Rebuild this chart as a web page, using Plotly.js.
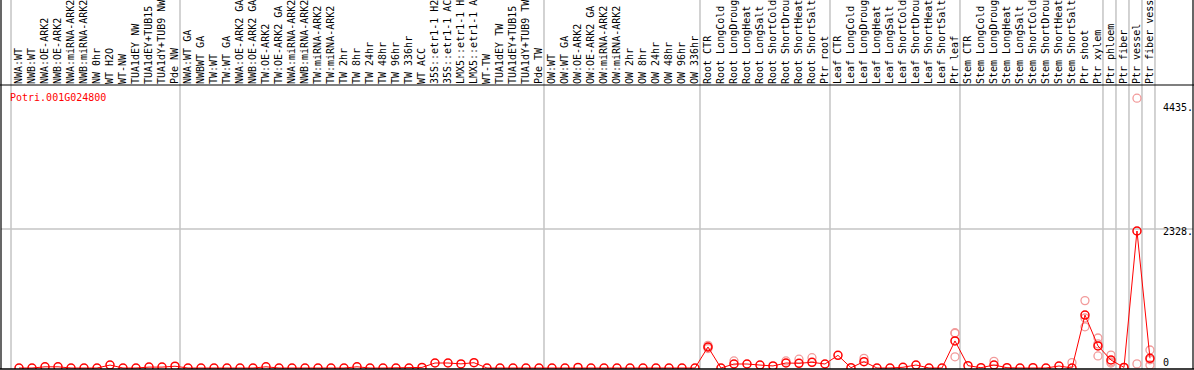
<!DOCTYPE html>
<html><head><meta charset="utf-8">
<script src="https://cdn.plot.ly/plotly-3.0.1.min.js"></script>
<style>html,body{margin:0;padding:0;background:#fff}#chart{width:1194px;height:370px}</style>
</head><body><div id="chart"></div>
<script>
const geneName = "Potri.001G024800";
const categories = [
 "NWA:WT","NWB:WT","NWA:OE-ARK2","NWB:OE-ARK2","NWA:miRNA-ARK2","NWB:miRNA-ARK2","NW 0hr","WT H2O","WT-NW","TUA1dEY NW","TUA1dEY+TUB15","TUA1dY+TUB9 NW","Pde NW",
 "NWA:WT GA","NWBWT GA","TW:WT","TW:WT GA","NWA:OE-ARK2 GA","NWB:OE-ARK2 GA","TW:OE-ARK2","TW:OE-ARK2 GA","NWA:miRNA-ARK2","NWB:miRNA-ARK2","TW:miRNA-ARK2","TW:miRNA-ARK2","TW 2hr","TW 8hr","TW 24hr","TW 48hr","TW 96hr","TW 336hr","WT ACC","35S::etr1-1 H2","35S::etr1-1 AC","LMX5::etr1-1 H","LMX5::etr1-1 A","WT-TW","TUA1dEY TW","TUA1dEY+TUB15","TUA1dY+TUB9 TW","Pde TW",
 "OW:WT","OW:WT GA","OW:OE-ARK2","OW:OE-ARK2 GA","OW:miRNA-ARK2","OW:miRNA-ARK2","OW 2hr","OW 8hr","OW 24hr","OW 48hr","OW 96hr","OW 336hr",
 "Root CTR","Root LongCold","Root LongDroug","Root LongHeat","Root LongSalt","Root ShortCold","Root ShortDrou","Root ShortHeat","Root ShortSalt","Ptr root",
 "Leaf CTR","Leaf LongCold","Leaf LongDroug","Leaf LongHeat","Leaf LongSalt","Leaf ShortCold","Leaf ShortDrou","Leaf ShortHeat","Leaf ShortSalt","Ptr leaf",
 "Stem CTR","Stem LongCold","Stem LongDroug","Stem LongHeat","Stem LongSalt","Stem ShortCold","Stem ShortDrou","Stem ShortHeat","Stem ShortSalt","Ptr shoot",
 "Ptr xylem","Ptr phloem","Ptr fiber","Ptr vessel","Ptr fiber vess"
];
const meanValues = [
 0,0,20,20,0,0,0,50,0,0,15,15,30,
 0,0,0,0,0,0,20,0,0,0,0,0,0,20,0,0,0,0,10,85,85,70,90,0,0,0,0,0,
 0,0,10,0,0,0,0,0,0,0,0,0,
 357,0,68,68,50,35,85,80,97,68,
 215,5,108,0,0,12,51,0,0,460,
 40,5,51,5,0,5,0,34,0,900,
 375,136,10,2328,165
];
const replicateCategories = [
 "Root CTR","Root CTR","Root CTR","Root LongDroug","Root ShortDrou","Root ShortHeat","Root ShortSalt",
 "Leaf LongDroug","Ptr leaf","Ptr leaf","Ptr leaf",
 "Stem LongDroug","Stem ShortSalt","Ptr shoot","Ptr shoot","Ptr shoot",
 "Ptr xylem","Ptr xylem","Ptr xylem","Ptr phloem","Ptr phloem","Ptr phloem","Ptr fiber",
 "Ptr vessel","Ptr vessel","Ptr fiber vess","Ptr fiber vess","Ptr fiber vess"
];
const replicateValues = [
 385,330,355,120,120,150,175,
 165,600,190,590,
 113,91,1145,850,700,
 510,205,410,220,85,105,10,
 4585,70,306,51,140
];
const groupStarts = ["NWA:WT","NWA:WT GA","OW:WT","Root CTR","Leaf CTR","Stem CTR"];
const separateAfter = ["Ptr xylem","Ptr phloem","Ptr fiber","Ptr vessel","Ptr fiber vess"];
const yLabelValues = [4435, 2328, 0];
const yLabelTexts = ["4435.", "2328.", "0"];

const xIdx = categories.map((c,i)=>i);
const repX = replicateCategories.map(c=>categories.lastIndexOf(c));

const font = 'DejaVu Sans Mono, monospace';
const red = '#ff0000';
const pink = '#f29a9a';
const gray = '#c4c4c4';

const traces = [
 {x:repX, y:replicateValues, type:'scatter', mode:'markers', hoverinfo:'skip',
  marker:{symbol:'circle-open', size:8, color:pink, line:{width:1.3, color:pink}}},
 {x:xIdx, y:meanValues, type:'scatter', mode:'lines+markers',
  line:{color:red, width:1},
  marker:{symbol:'circle-open', size:8, color:red, line:{width:1.5, color:red}}}
];

const shapes = [];
const vlineX = [];
groupStarts.forEach(c=>vlineX.push(categories.indexOf(c)-0.5-0.115));
separateAfter.forEach(c=>vlineX.push(categories.lastIndexOf(c)+0.5-0.115));
vlineX.forEach(v=>shapes.push({type:'line', xref:'x', yref:'paper', x0:v, x1:v, y0:0, y1:1.31, line:{color:gray, width:1.5}, layer:'below'}));
shapes.push({type:'line', xref:'paper', yref:'y', x0:0, x1:1, y0:2360, y1:2360, line:{color:gray, width:1.5}, layer:'below'});
// frame
shapes.push({type:'line', xref:'paper', yref:'paper', x0:-0.002, x1:1.002, y0:1, y1:1, line:{color:'#000', width:1.2}});
shapes.push({type:'line', xref:'paper', yref:'paper', x0:-0.002, x1:1.002, y0:0, y1:0, line:{color:'#000', width:1.5}});
shapes.push({type:'line', xref:'paper', yref:'paper', x0:0, x1:0, y0:0, y1:1.31, line:{color:'#000', width:1.2}});
shapes.push({type:'line', xref:'paper', yref:'paper', x0:1, x1:1, y0:0, y1:1.31, line:{color:'#000', width:1.2}});

const annotations = [
 {text:geneName, xref:'paper', yref:'paper', x:0.0075, y:0.9577, xanchor:'left', yanchor:'middle', showarrow:false,
  borderpad:0, borderwidth:0, font:{family:font, size:10, color:red}}
];
yLabelValues.forEach((v,i)=>annotations.push({text:yLabelTexts[i], xref:'paper', yref:'y', x:0.9748, y:v,
  xanchor:'left', yanchor: v===0?'bottom':'middle', showarrow:false, borderpad:0, borderwidth:0,
  font:{family:font, size:10, color:'#000'}}));

const layout = {
 width:1194, height:370,
 margin:{l:1, r:1, t:85, b:1, pad:0},
 paper_bgcolor:'#fff', plot_bgcolor:'#fff',
 showlegend:false,
 xaxis:{range:[-1.385, 90.31], side:'top', tickmode:'array', tickvals:xIdx, ticktext:categories,
  tickangle:-90, tickfont:{family:font, size:10, color:'#000'}, showgrid:false, zeroline:false,
  showline:false, ticks:'', fixedrange:true},
 yaxis:{range:[-17, 4809], showticklabels:false, showgrid:false, zeroline:false, ticks:'', fixedrange:true},
 shapes:shapes,
 annotations:annotations
};
Plotly.newPlot('chart', traces, layout, {displayModeBar:false, staticPlot:true});
</script>
</body></html>
